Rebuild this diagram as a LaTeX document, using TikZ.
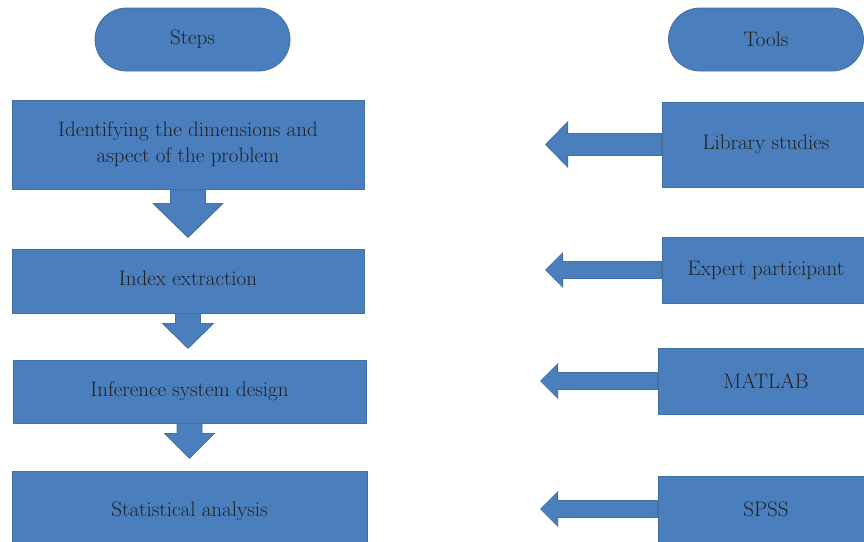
\documentclass[tikz,border=0pt]{standalone}
\usepackage{tikz}
\usetikzlibrary{calc}
\definecolor{boxblue}{HTML}{4A7EBD}
\definecolor{boxline}{HTML}{41719C}
\definecolor{inktext}{HTML}{222222}
\tikzset{
	blockarrow/.style={fill=boxblue, draw=boxline, line width=0.8pt, line join=miter},
	stepbox/.style={rectangle, fill=boxblue, draw=boxline, line width=0.8pt, inner sep=0pt, align=center, text=inktext, font=\fontsize{21}{26}\selectfont},
	headbox/.style={stepbox, rounded corners=31.5pt, minimum width=195pt, minimum height=63pt}
}
\def\blockdown(#1)(#2:#3:#4:#5){\draw[blockarrow] ($(#1.south)+(-#2,0)$) -- ($(#1.south)+(-#2,#4)$) -- ($(#1.south)+(-#3,#4)$) -- ($(#1.south)+(0,{#4+#5})$) -- ($(#1.south)+(#3,#4)$) -- ($(#1.south)+(#2,#4)$) -- ($(#1.south)+(#2,0)$) -- cycle;}
\def\blockleft(#1)(#2:#3:#4:#5){\draw[blockarrow] ($(#1.west)+(0,-#2)$) -- ($(#1.west)+(-#4,-#2)$) -- ($(#1.west)+(-#4,-#3)$) -- ($(#1.west)+({-#4-#5},0)$) -- ($(#1.west)+(-#4,#3)$) -- ($(#1.west)+(-#4,#2)$) -- ($(#1.west)+(0,#2)$) -- cycle;}

\begin{document}
\begin{tikzpicture}[x=1pt, y=-1pt]
			%%%%% START %%%%%
			\useasboundingbox (0, 0) rectangle (864, 541);
			\clip (0, 0) rectangle (864, 541);
			
			\node[headbox] (steps) at (192.5, 39.5) {Steps};
			\node[headbox] (tools) at (766, 39.5) {Tools};
			
			% steps column
			\node[stepbox, minimum width=352pt, minimum height=89pt] (dims) at (188, 144.5) {Identifying the dimensions and\\aspect of the problem};
			\node[stepbox, minimum width=352pt, minimum height=64pt] (index) at (188, 281) {\raisebox{6pt}{Index extraction}};
			\node[stepbox, minimum width=353pt, minimum height=63pt] (infer) at (189.5, 391.5) {Inference system design};
			\node[stepbox, minimum width=355pt, minimum height=80pt] (stat) at (189.5, 511) {Statistical analysis};
			
			\blockdown(dims)(17.5:35:14:34);
			\blockdown(index)(12.5:25.5:10:25);
			\blockdown(infer)(12.5:25:10:25);
			
			% tools column
			\node[stepbox, minimum width=208pt, minimum height=85pt] (library) at (766, 144.5) {\raisebox{2pt}{Library studies}};
			\node[stepbox, minimum width=208pt, minimum height=66pt] (expert) at (766, 270) {Expert participant};
			\node[stepbox, minimum width=216pt, minimum height=66pt] (matlab) at (766, 381) {MATLAB};
			\node[stepbox, minimum width=216pt, minimum height=66pt] (spss) at (766, 509) {SPSS};
			
			\blockleft(library)(11:22.5:94:22);
			\blockleft(expert)(8.5:17:99:17);
			\blockleft(matlab)(8.5:17:100:17);
			\blockleft(spss)(8.5:17:100:17);
			
			%%%%% END %%%%%
\end{tikzpicture}
\end{document}
